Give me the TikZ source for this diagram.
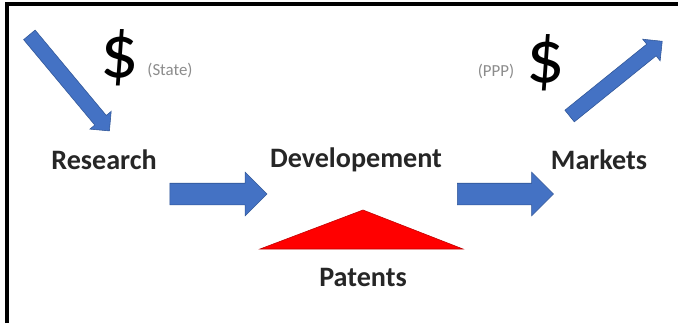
\documentclass[tikz,border=0pt]{standalone}
\usepackage{fontspec}
\setmainfont{Carlito}
\usetikzlibrary{positioning,shapes.arrows}
\definecolor{arrowblue}{RGB}{68,114,196}
\definecolor{arrowedge}{RGB}{47,85,151}

\begin{document}
\begin{tikzpicture}[x=0.025cm,y=-0.025cm]
\tikzstyle{stage}=[font=\fontsize{20}{24}\selectfont\bfseries, text=black!85, inner sep=0pt]
\tikzstyle{money}=[font=\fontsize{54}{60}\selectfont, inner sep=0pt]
\tikzstyle{note}=[font=\fontsize{12}{14}\selectfont, text=black!45, inner sep=0pt]
\tikzstyle{flow}=[single arrow, draw=arrowedge, fill=arrowblue, inner sep=0.2625cm, single arrow head extend=0.275cm]
\tikzstyle{slant}=[single arrow, draw=arrowedge, fill=arrowblue, inner sep=0.18cm, single arrow head extend=0.16cm]
\useasboundingbox (0,0) rectangle (678,323);
\fill[white] (0,0) rectangle (678,323);
\draw[line width=0.1cm] (7,323) -- (7,4) -- (678,4);
\node[stage] (res) at (104,160) {Research};
\node[stage] (dev) at (356,160) {Developement};
\node[stage] (mkt) at (599,160) {Markets};
\node[money] (d1) at (120,58) {\$};
\node[note] (st) at (170,70) {(State)};
\node[money] (d2) at (546,63) {\$};
\node[note] (pp) at (496,71) {(PPP)};
\node[slant, minimum height=3.125cm, rotate=-50.2] (in) at (67,80) {};
\node[slant, minimum height=2.975cm, rotate=38.9] (out) at (613,81) {};
\node[flow, minimum height=2.425cm] (f1) at (213,194) {};
\node[flow, minimum height=2.4cm] (f2) at (500,194) {};
\filldraw[fill=red, draw=red!75!black] (260,249) -- (363,210) -- (463,249) -- cycle;
\node[stage] (pat) at (363,277) {Patents};
\end{tikzpicture}
\end{document}
